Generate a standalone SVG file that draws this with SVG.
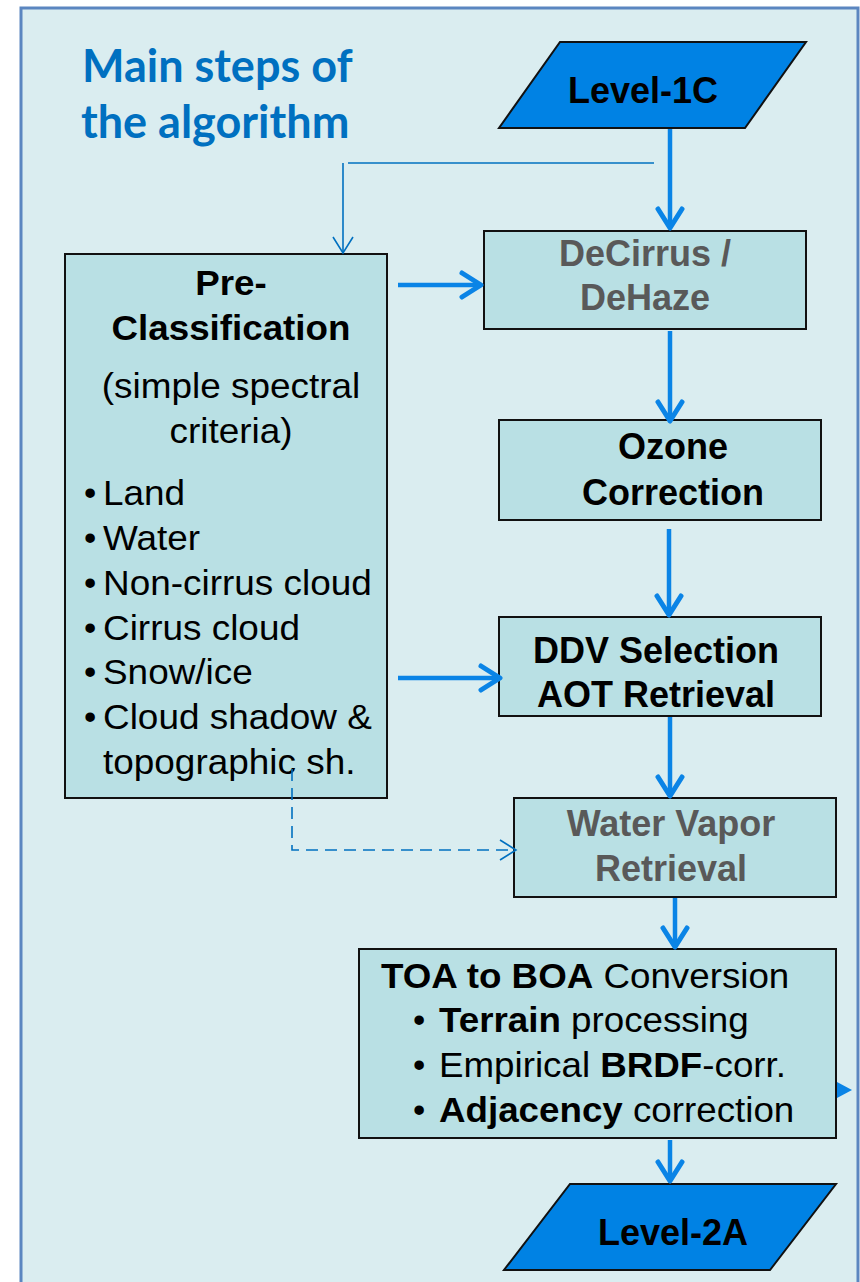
<svg xmlns="http://www.w3.org/2000/svg" width="860" height="1282" viewBox="0 0 860 1282">
<defs>
<style>
.box{fill:#b9e0e4;stroke:#111;stroke-width:2}
.lvl{fill:#0082e4;stroke:#111;stroke-width:2}
.t{font-family:"Liberation Sans",Arial,sans-serif;fill:#000}
.b{font-weight:bold}
.g{fill:#595959}
.c{text-anchor:middle}
.s36{font-size:36px}
.s35{font-size:35px}
.thick{stroke:#0a84e6;stroke-width:4.5;fill:none}
.thin{stroke:#0070c0;stroke-width:1.6;fill:none}
.title{font-family:Lato,"Open Sans",sans-serif;font-weight:bold;font-size:45px;fill:#0070c0}
</style>
<marker id="ah" markerUnits="userSpaceOnUse" viewBox="-24 -16 28 32" markerWidth="28" markerHeight="32" refX="0" refY="0" orient="auto">
<path d="M-19,-12 L0,0 L-19,12" fill="none" stroke="#0a84e6" stroke-width="5" stroke-linecap="round" stroke-linejoin="round"/>
</marker>
<marker id="ahThin" markerUnits="userSpaceOnUse" viewBox="-20 -12 22 24" markerWidth="22" markerHeight="24" refX="0" refY="0" orient="auto">
<path d="M-16,-10 L0,0 L-16,10" fill="none" stroke="#0070c0" stroke-width="1.6"/>
</marker>
</defs>

<rect id="panel" x="21" y="8" width="837" height="1292" fill="#daedf0" stroke="#5b86c0" stroke-width="3"/>

<g id="title">
<text class="title" x="82" y="82">Main steps of</text>
<text class="title" x="81" y="138">the algorithm</text>
</g>

<g id="level1c">
<path class="lvl" d="M560,42 H806 L745,128 H499 Z"/>
<text class="t b s36 c" x="643" y="103">Level-1C</text>
</g>

<g id="preclass">
<rect class="box" x="65" y="254" width="322" height="544"/>
<g class="t s35">
<text class="b c" transform="translate(231 295) scale(1.05 1)">Pre-</text>
<text class="b c" transform="translate(231 340) scale(1.05 1)">Classification</text>
<text class="c" transform="translate(231 398) scale(1.055 1)">(simple spectral</text>
<text class="c" transform="translate(231 443) scale(1.055 1)">criteria)</text>
<text x="84" y="505">•</text><text transform="translate(103 505) scale(1.055 1)">Land</text>
<text x="84" y="550">•</text><text transform="translate(103 550) scale(1.055 1)">Water</text>
<text x="84" y="595">•</text><text transform="translate(103 595) scale(1.055 1)">Non-cirrus cloud</text>
<text x="84" y="640">•</text><text transform="translate(103 640) scale(1.055 1)">Cirrus cloud</text>
<text x="84" y="684">•</text><text transform="translate(103 684) scale(1.055 1)">Snow/ice</text>
<text x="84" y="729">•</text><text transform="translate(103 729) scale(1.055 1)">Cloud shadow &amp;</text>
<text transform="translate(103 774) scale(1.055 1)">topographic sh.</text>
</g>
</g>

<g id="decirrus">
<rect class="box" x="484" y="231" width="322" height="98"/>
<text class="t b g s36 c" x="645" y="266">DeCirrus /</text>
<text class="t b g s36 c" x="645" y="310">DeHaze</text>
</g>

<g id="ozone">
<rect class="box" x="499" y="420" width="322" height="100"/>
<text class="t b s36 c" x="673" y="459">Ozone</text>
<text class="t b s36 c" x="673" y="505">Correction</text>
</g>

<g id="ddv">
<rect class="box" x="499" y="617" width="322" height="99"/>
<text class="t b s36 c" x="656" y="663">DDV Selection</text>
<text class="t b s36 c" x="656" y="707">AOT Retrieval</text>
</g>

<g id="watervapor">
<rect class="box" x="514" y="798" width="322" height="99"/>
<text class="t b g s36 c" x="671" y="836">Water Vapor</text>
<text class="t b g s36 c" x="671" y="881">Retrieval</text>
</g>

<g id="toa">
<rect class="box" x="359" y="949" width="477" height="189"/>
<g class="t s35">
<text transform="translate(381 988) scale(1.05 1)"><tspan class="b">TOA to BOA</tspan> Conversion</text>
<text x="413" y="1032">•</text><text transform="translate(439 1032) scale(1.05 1)"><tspan class="b">Terrain</tspan> processing</text>
<text x="413" y="1077">•</text><text transform="translate(439 1077) scale(1.05 1)">Empirical <tspan class="b">BRDF</tspan>-corr.</text>
<text x="413" y="1122">•</text><text transform="translate(439 1122) scale(1.05 1)"><tspan class="b">Adjacency</tspan> correction</text>
</g>
</g>

<g id="level2a">
<path class="lvl" d="M570,1184 H836 L770,1270 H504 Z"/>
<text class="t b s36 c" x="673" y="1245">Level-2A</text>
</g>

<g id="connectors">
<path class="thin" d="M654,163 H348"/>
<path class="thin" d="M343,163 V253" marker-end="url(#ahThin)"/>
<path class="thin" d="M292,769 V850 H516" stroke-dasharray="12,7" marker-end="url(#ahThin)"/>
<path class="thick" d="M670,129 V228" marker-end="url(#ah)"/>
<path class="thick" d="M398,285 H481" marker-end="url(#ah)"/>
<path class="thick" d="M670,331 V421" marker-end="url(#ah)"/>
<path class="thick" d="M669,529 V615" marker-end="url(#ah)"/>
<path class="thick" d="M398,678 H500" marker-end="url(#ah)"/>
<path class="thick" d="M670,717 V796" marker-end="url(#ah)"/>
<path class="thick" d="M675,898 V947" marker-end="url(#ah)"/>
<path class="thick" d="M670,1140 V1181" marker-end="url(#ah)"/>
<path d="M837,1082 L852,1090 L837,1098 Z" fill="#0a84e6"/>
</g>
</svg>
